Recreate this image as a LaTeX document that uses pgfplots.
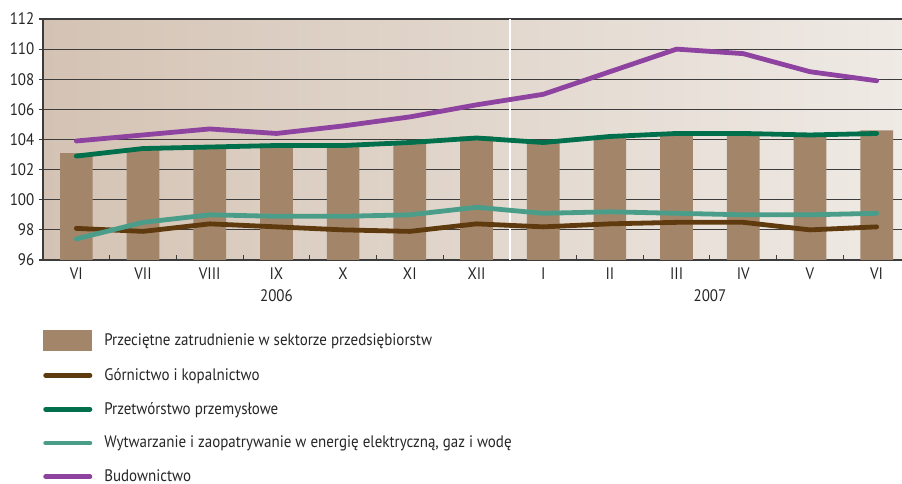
\documentclass[border=0pt]{standalone}
\usepackage{fontspec}
\setmainfont[FakeStretch=0.9]{PT Sans}
\usepackage{pgfplots}
\pgfplotsset{compat=1.18}
\definecolor{barc}{HTML}{A3866A}
\definecolor{brownl}{HTML}{5E3A0E}
\definecolor{greenl}{HTML}{00704C}
\definecolor{tealc}{HTML}{4A9D88}
\definecolor{purp}{HTML}{8E43A0}
\definecolor{bgl}{HTML}{D4C3B4}
\definecolor{bgr}{HTML}{EFEAE5}
\definecolor{gridc}{HTML}{3C3C3C}
\pgfplotsset{lineleg/.style={legend image code/.code={\draw[##1] (1.8pt,0pt) -- (35pt,0pt);}},
  barleg/.style={legend image code/.code={\fill[barc] (0pt,-7.9pt) rectangle (36.75pt,7.9pt);}}}
\begin{document}
\begin{tikzpicture}
\path[use as bounding box] (-32.25pt,-168pt) rectangle (644.25pt,195pt);
\begin{axis}[
  at={(0,0)}, anchor=south west,
  scale only axis, width=644.25pt, height=180.75pt,
  xmin=-0.5, xmax=12.38, ymin=96, ymax=112,
  ytick={96,98,...,112},
  xtick={0,...,12},
  xticklabels={VI,VII,VIII,IX,X,XI,XII,I,II,III,IV,V,VI},
  minor xtick={0.5,1.5,...,11.5},
  major x tick style={draw=none},
  minor x tick style={gridc, line width=0.8pt},
  minor tick length=4pt,
  major tick length=3pt,
  xtick align=inside, ytick align=outside,
  y tick style={gridc, line width=0.8pt},
  ymajorgrids, grid style={gridc, line width=0.8pt},
  axis x line*=bottom, axis y line*=left,
  axis line style={-, gridc, line width=0.9pt},
  axis background/.style={left color=bgl, right color=bgr},
  /pgf/number format/assume math mode=true,
  tick label style={font=\fontsize{12.5}{14}\selectfont, text=black!85},
  xticklabel style={yshift=-2.5pt},
  legend style={at={(axis description cs:0,-0.29)}, anchor=north west,
    draw=none, fill=none, font=\fontsize{12.5}{14}\selectfont, text=black!85,
    row sep=10.9pt, column sep=4.5pt, inner sep=0pt,
    nodes={inner xsep=4.5pt}},
  legend cell align=left,
  clip=false,
]
\addplot[ybar, bar width=0.49, fill=barc, draw=none, barleg]
  coordinates {(0,103.1) (1,103.3) (2,103.5) (3,103.6) (4,103.65) (5,103.8) (6,104.2)
   (7,103.9) (8,104.2) (9,104.4) (10,104.4) (11,104.3) (12,104.6)};
\addlegendentry{Przeciętne zatrudnienie w sektorze przedsiębiorstw}
\draw[white, line width=1.5pt] (axis cs:6.5,96) -- (axis cs:6.5,112);
\pgfplotsset{every axis plot/.append style={line width=3.6pt, line join=round, line cap=round, mark=none}}
\addplot[brownl, lineleg]
  coordinates {(0,98.1) (1,97.9) (2,98.4) (3,98.2) (4,98.0) (5,97.9) (6,98.4)
   (7,98.2) (8,98.4) (9,98.5) (10,98.5) (11,98.0) (12,98.2)};
\addlegendentry{Górnictwo i kopalnictwo}
\addplot[greenl, lineleg]
  coordinates {(0,102.9) (1,103.4) (2,103.5) (3,103.6) (4,103.6) (5,103.8) (6,104.1)
   (7,103.8) (8,104.2) (9,104.4) (10,104.4) (11,104.3) (12,104.4)};
\addlegendentry{Przetwórstwo przemysłowe}
\addplot[tealc, lineleg]
  coordinates {(0,97.4) (1,98.5) (2,99.0) (3,98.9) (4,98.9) (5,99.0) (6,99.5)
   (7,99.1) (8,99.2) (9,99.1) (10,99.0) (11,99.0) (12,99.1)};
\addlegendentry{Wytwarzanie i zaopatrywanie w energię elektryczną, gaz i wodę}
\addplot[purp, lineleg]
  coordinates {(0,103.9) (1,104.3) (2,104.7) (3,104.4) (4,104.9) (5,105.5) (6,106.3)
   (7,107.0) (8,108.5) (9,110.0) (10,109.7) (11,108.5) (12,107.9)};
\addlegendentry{Budownictwo}
\node[font=\fontsize{12.5}{14}\selectfont, text=black!85] at ([yshift=-27pt]axis cs:3,96) {2006};
\node[font=\fontsize{12.5}{14}\selectfont, text=black!85] at ([yshift=-27pt]axis cs:9.5,96) {2007};
\end{axis}
\end{tikzpicture}
\end{document}
